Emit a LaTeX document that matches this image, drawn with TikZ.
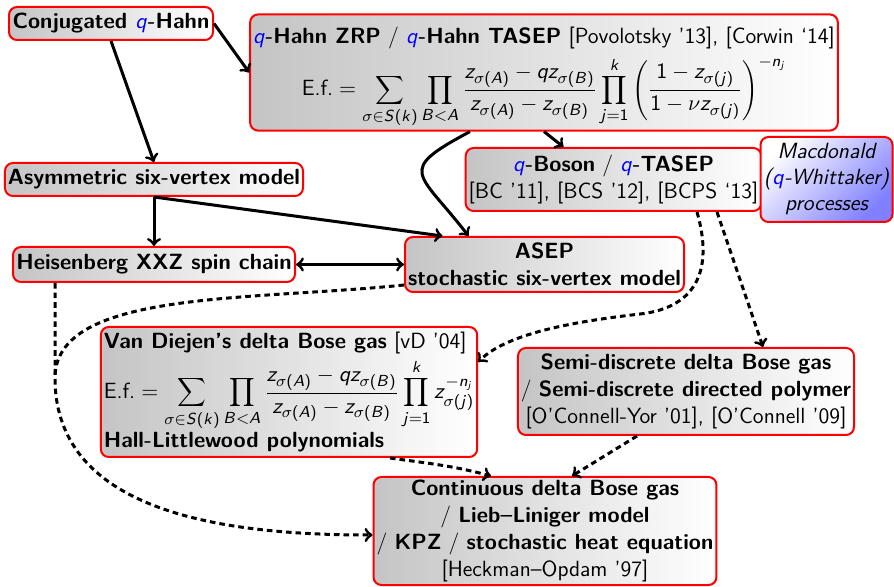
\documentclass[tikz,border=0pt]{standalone}
\usetikzlibrary{calc}
% sans-serif math in the style of beamer slides
\DeclareSymbolFont{sfletters}{OT1}{cmss}{m}{sl}
\SetSymbolFont{operators}{normal}{OT1}{cmss}{m}{n}
\DeclareMathSymbol{z}{\mathalpha}{sfletters}{`z}
\DeclareMathSymbol{q}{\mathalpha}{sfletters}{`q}
\DeclareMathSymbol{A}{\mathalpha}{sfletters}{`A}
\DeclareMathSymbol{B}{\mathalpha}{sfletters}{`B}
\DeclareMathSymbol{S}{\mathalpha}{sfletters}{`S}
\DeclareMathSymbol{k}{\mathalpha}{sfletters}{`k}
\DeclareMathSymbol{j}{\mathalpha}{sfletters}{`j}
\DeclareMathSymbol{n}{\mathalpha}{sfletters}{`n}
\newcommand\qq{\textcolor{blue}{$q$}}
\begin{document}
\begin{tikzpicture}[x=0.5pt,y=-0.5pt,
  box/.style={draw=red, line width=1pt, rounded corners=4pt,
    left color=gray!46, right color=white,
    align=center, inner sep=1.5pt,
    font=\fontsize{11}{13.5}\selectfont\sffamily},
  mbox/.style={box, top color=white, bottom color=blue!50,
    shading angle=45, font=\fontsize{11}{13}\selectfont\sffamily\itshape},
  link/.style={line width=1.5pt, ->},
  dlink/.style={link, dash pattern=on 2.8pt off 2pt},
]
\useasboundingbox (0,0) rectangle (894,587);

% boxes
\node[box, minimum width=102pt, minimum height=16.5pt] (conj) at (111,23.5)
  {\textbf{Conjugated }\qq\textbf{-Hahn}};
\node[box, minimum width=289pt, minimum height=53.5pt] (qhahn) at (544,72.5)
  {\rule{0pt}{13pt}\qq\textbf{-Hahn ZRP} / \qq\textbf{-Hahn TASEP} [Povolotsky '13], [Corwin `14]\\[3pt]
   $\mbox{E.f.} = \displaystyle\sum_{\sigma\in S(k)}\prod_{B<A}
    \frac{z_{\sigma(A)}-qz_{\sigma(B)}}{z_{\sigma(A)}-z_{\sigma(B)}}
    \prod_{j=1}^{k}\left(\frac{1-z_{\sigma(j)}}{1-\nu z_{\sigma(j)}}\right)^{-n_j}$};
\node[box, minimum width=149pt, minimum height=16.5pt] (asym) at (154,179.5)
  {\textbf{Asymmetric six-vertex model}};
\node[box, minimum width=141pt, minimum height=17.5pt] (heis) at (154,264.5)
  {\textbf{Heisenberg XXZ spin chain}};
\node[box, minimum width=139.5pt, minimum height=27.5pt] (ASEP) at (544.5,264.5)
  {\textbf{ASEP}\\\textbf{stochastic six-vertex model}};
\node[box, minimum width=146.5pt, minimum height=31.5pt] (qboson) at (613.5,179.5)
  {\qq\textbf{-Boson} / \qq\textbf{-TASEP}\\ {[}BC '11], [BCS '12], [BCPS `13]};
\node[mbox, minimum width=66pt, minimum height=42.5pt] (macd) at (826.5,179.5)
  {Macdonald\\(\qq-Whittaker)\\processes};
\node[box, align=left, minimum width=184pt, minimum height=65pt] (vanD) at (289,392)
  {\textbf{Van Diejen's delta Bose gas} [vD '04]\\[2pt]
   $\mbox{E.f.} = \displaystyle\sum_{\sigma\in S(k)}\prod_{B<A}
    \frac{z_{\sigma(A)}-qz_{\sigma(B)}}{z_{\sigma(A)}-z_{\sigma(B)}}
    \prod_{j=1}^{k} z_{\sigma(j)}^{-n_j}$\\
   \textbf{Hall-Littlewood polynomials}};
\node[box, minimum width=168pt, minimum height=43.5pt] (semi) at (686,391.5)
  {\textbf{Semi-discrete delta Bose gas}\\
   / \textbf{Semi-discrete directed polymer}\\
   {[}O'Connell-Yor '01], [O'Connell '09]};
\node[box, minimum width=171pt, minimum height=54pt] (cont) at (545,531)
  {\textbf{Continuous delta Bose gas}\\
   / \textbf{Lieb--Liniger model}\\
   / \textbf{KPZ} / \textbf{stochastic heat equation}\\
   {[}Heckman--Opdam '97]};

% solid connectors
\draw[link] (conj.east) -- (qhahn.west);
\draw[link] (conj.south) -- (asym.north);
\draw[link] (qhahn.south) -- ([xshift=-25pt]qboson.north);
\draw[link] ([xshift=-37pt]qhahn.south) .. controls +(-75,40) and +(-50,-65) .. ([xshift=-38pt]ASEP.north);
\draw[link] (asym.south) -- ([xshift=-51pt]ASEP.north);
\draw[link] (asym.south) -- (heis.north);
\draw[link,<->] (heis.east) -- (ASEP.west);

% dashed connectors
\coordinate (bend) at (55,378);
\coordinate (sweep) at (640,314);
\draw[dlink] ([xshift=-49.5pt]heis.south) -- (bend) to[out=-90,in=180] ([yshift=-2pt]cont.west);
\draw[dlink,-] ([yshift=4pt]ASEP.south west) .. controls +(-155,16) and +(0,-88) .. (bend);
\draw[dlink] ([xshift=41.75pt]qboson.south) .. controls +(20,70) and +(45,-5) .. (sweep)
  .. controls +(-60,7) and +(30,-30) .. ([yshift=15pt]vanD.east);
\draw[dlink] ([xshift=51.75pt]qboson.south) -- ([xshift=38.5pt]semi.north);
\draw[dlink] ([xshift=50.5pt]vanD.south) to[out=-8,in=165] ([xshift=-27pt]cont.north);
\draw[dlink] ([xshift=-24.5pt]semi.south) -- ([xshift=13.5pt]cont.north);
\end{tikzpicture}
\end{document}
